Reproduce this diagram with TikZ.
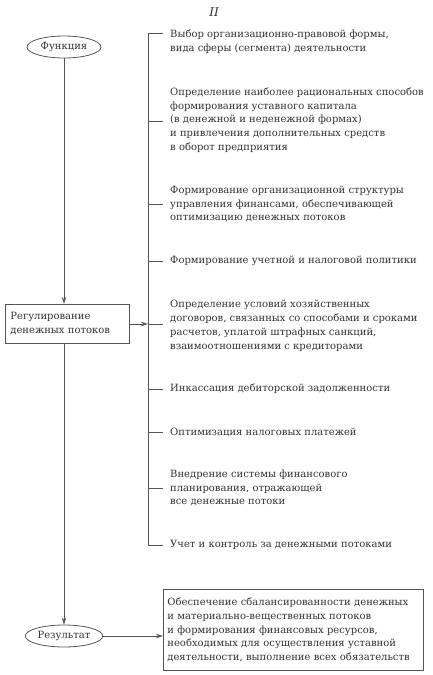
\documentclass[tikz,border=0pt]{standalone}
\usepackage{fontspec}
\setmainfont{DejaVu Serif}
\usetikzlibrary{shapes.geometric,arrows.meta}
\definecolor{ink}{HTML}{333333}
\definecolor{ln}{HTML}{555555}
\newcommand{\fs}{\fontsize{10}{13.8}\selectfont}
\tikzset{
  txt/.style={anchor=west,align=left,inner sep=0pt,text=ink,font=\fs},
  oval/.style={ellipse,draw=ln,line width=0.8pt,text=ink,font=\fs,minimum width=74pt,minimum height=22pt,inner sep=1pt},
  conn/.style={draw=ln,line width=0.8pt},
  arr/.style={conn,-{Stealth[length=7pt,width=4.5pt]}}
}
\begin{document}
\begin{tikzpicture}[x=1pt,y=-1pt]
\useasboundingbox (0,0) rectangle (433,675);
\node[text=ink,font=\itshape\fontsize{12}{14}\selectfont] (roman) at (214,12) {II};
\node[oval] (func) at (64,47) {Функция};
\node[draw=ln,line width=0.8pt,text=ink,align=left,font=\fs,minimum width=124pt,minimum height=39pt,text width=114pt,inner xsep=5pt,anchor=north west] (reg) at (5,304) {Регулирование\\денежных потоков};
\node[oval] (res) at (64,636) {Результат};
\node[draw=ln,line width=0.8pt,text=ink,align=left,font=\fs,minimum width=259pt,minimum height=81pt,text width=252pt,inner xsep=4pt,anchor=north west] (resbox) at (163,589) {Обеспечение сбалансированности денежных\\и материально-вещественных потоков\\и формирования финансовых ресурсов,\\необходимых для осуществления уставной\\деятельности, выполнение всех обязательств};
% bracket
\coordinate (btop) at (148,33);
\coordinate (bbot) at (148,545);
\coordinate (bin) at (148,324);
\draw[conn] (btop) -- (bbot);
\foreach \y/\n in {33/1,121/2,204/3,261/4,324/5,389/6,432/7,488/8,545/9}{
  \coordinate (t\n a) at (148,\y);
  \coordinate (t\n b) at (163,\y);
  \draw[conn] (t\n a) -- (t\n b);
}
\node[txt] (i1) at (170,42) {Выбор организационно-правовой формы,\\вида сферы (сегмента) деятельности};
\node[txt] (i2) at (170,120) {Определение наиболее рациональных способов\\формирования уставного капитала\\(в денежной и неденежной формах)\\и привлечения дополнительных средств\\в оборот предприятия};
\node[txt] (i3) at (170,204) {Формирование организационной структуры\\управления финансами, обеспечивающей\\оптимизацию денежных потоков};
\node[txt] (i4) at (170,261) {Формирование учетной и налоговой политики};
\node[txt] (i5) at (170,326) {Определение условий хозяйственных\\договоров, связанных со способами и сроками\\расчетов, уплатой штрафных санкций,\\взаимоотношениями с кредиторами};
\node[txt] (i6) at (170,389) {Инкассация дебиторской задолженности};
\node[txt] (i7) at (170,432) {Оптимизация налоговых платежей};
\node[txt] (i8) at (170,488) {Внедрение системы финансового\\планирования, отражающей\\все денежные потоки};
\node[txt] (i9) at (170,545) {Учет и контроль за денежными потоками};
% arrows
\draw[arr] (func.south) -- (reg.north -| func.south);
\draw[arr] (reg.east |- bin) -- (bin);
\draw[arr] (reg.south -| res.north) -- (res.north);
\draw[arr] (res.east) -- (resbox.west |- res.east);
\end{tikzpicture}
\end{document}
